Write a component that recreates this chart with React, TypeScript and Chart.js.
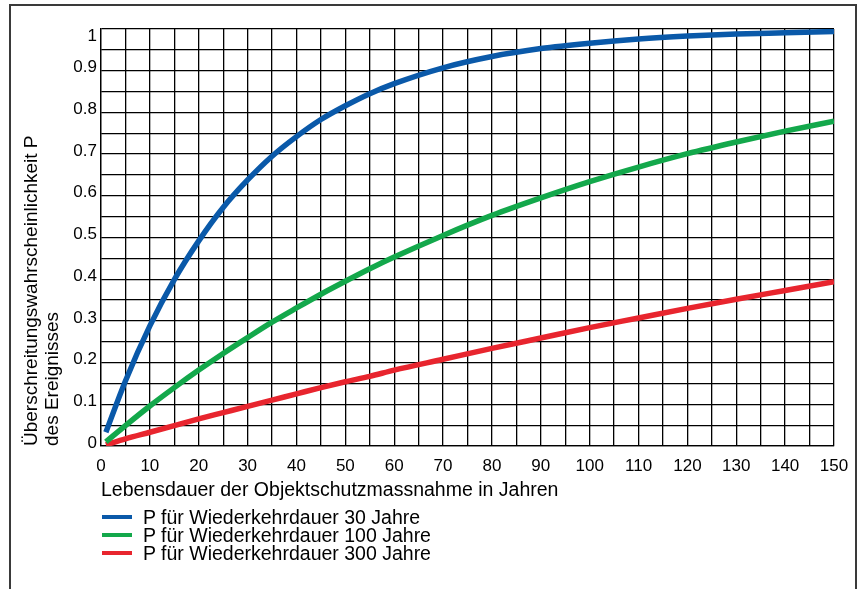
import React, { useEffect, useRef } from "react";
import { Chart, registerables } from "chart.js";

Chart.register(...registerables);

const years = [1, 5, 10, 15, 20, 25, 30, 35, 40, 45, 50, 55, 60, 70, 80, 90, 100, 110, 120, 130, 140, 150];
const p30 = [0.033, 0.156, 0.288, 0.399, 0.492, 0.572, 0.638, 0.695, 0.742, 0.783, 0.816, 0.845, 0.869, 0.907, 0.934, 0.953, 0.966, 0.976, 0.983, 0.988, 0.991, 0.994];
const p100 = [0.01, 0.049, 0.096, 0.14, 0.182, 0.222, 0.26, 0.297, 0.331, 0.364, 0.395, 0.425, 0.453, 0.505, 0.553, 0.595, 0.634, 0.669, 0.701, 0.729, 0.755, 0.779];
const p300 = [0.003, 0.017, 0.033, 0.049, 0.065, 0.08, 0.095, 0.11, 0.125, 0.14, 0.154, 0.167, 0.182, 0.208, 0.234, 0.259, 0.284, 0.307, 0.33, 0.352, 0.373, 0.394];

const seriesLabels = [
  "P für Wiederkehrdauer 30 Jahre",
  "P für Wiederkehrdauer 100 Jahre",
  "P für Wiederkehrdauer 300 Jahre",
];
const seriesColors = ["#0a59a9", "#13a84b", "#e8252e"];
const seriesValues = [p30, p100, p300];

const xTitle = "Lebensdauer der Objektschutzmassnahme in Jahren";
const yTitle = ["Überschreitungswahrscheinlichkeit P", "des Ereignisses"];

const FONT = "'Liberation Sans', Arial, Helvetica, sans-serif";

export default function App() {
  const ref = useRef<HTMLCanvasElement | null>(null);

  useEffect(() => {
    if (!ref.current) return;
    const chart = new Chart(ref.current, {
      type: "line",
      data: {
        datasets: seriesValues.map((vals, i) => ({
          label: seriesLabels[i],
          data: years.map((x, j) => ({ x, y: vals[j] })),
          borderColor: seriesColors[i],
          backgroundColor: seriesColors[i],
          borderWidth: 5.5,
          pointRadius: 0,
          cubicInterpolationMode: "monotone" as const,
          fill: false,
        })),
      },
      options: {
        responsive: false,
        animation: false,
        devicePixelRatio: 1,
        layout: { padding: { top: 29, right: 29, left: 0, bottom: 87 } },
        plugins: { legend: { display: false }, tooltip: { enabled: false } },
        scales: {
          x: {
            type: "linear",
            min: 0,
            max: 150,
            ticks: {
              stepSize: 5,
              autoSkip: false,
              maxRotation: 0,
              padding: 10,
              color: "#000",
              font: { family: FONT, size: 17 },
              callback: (v: any) => (Number(v) % 10 === 0 ? String(v) : ""),
            },
            grid: { color: "#000", lineWidth: 1.3, drawTicks: false },
            border: { color: "#000", width: 1.3 },
            title: {
              display: true,
              text: xTitle,
              align: "start",
              color: "#000",
              font: { family: FONT, size: 19.5 },
              padding: { top: 0, bottom: 0 },
            },
            afterFit: (s: any) => {
              s.height = 56;
            },
          },
          y: {
            type: "linear",
            min: 0,
            max: 1,
            ticks: {
              stepSize: 0.05,
              autoSkip: false,
              padding: 4,
              labelOffset: -3,
              color: "#000",
              font: { family: FONT, size: 17 },
              callback: (v: any) => {
                const n = Math.round(Number(v) * 100);
                if (n % 10 !== 0) return "";
                if (n === 100) return ["", "1"];
                return n === 0 ? "0" : String(n / 100);
              },
            },
            grid: { color: "#000", lineWidth: 1.3, drawTicks: false },
            border: { color: "#000", width: 1.3 },
            title: {
              display: true,
              text: yTitle,
              align: "start",
              color: "#000",
              font: { family: FONT, size: 19, lineHeight: 1.1 },
              padding: { top: 21.5, bottom: 0 },
            },
            afterFit: (s: any) => {
              s.width = 101;
            },
          },
        },
      },
    });
    return () => chart.destroy();
  }, []);

  return (
    <div style={{ position: "absolute", left: 0, top: 0, width: 863, height: 589, overflow: "hidden", background: "#fff" }}>
      <div
        style={{
          position: "absolute",
          left: 9,
          top: 4,
          width: 848,
          height: 700,
          border: "2px solid #3a3a3a",
          boxSizing: "border-box",
        }}
      />
      <canvas ref={ref} width={863} height={589} style={{ position: "absolute", left: 0, top: 0, width: 863, height: 589 }} />
      <div style={{ position: "absolute", left: 102, top: 508, fontFamily: FONT, fontSize: 19.5, color: "#000" }}>
        {seriesLabels.map((lab, i) => (
          <div key={lab} style={{ display: "flex", alignItems: "center", height: 18 }}>
            <span style={{ display: "inline-block", width: 30, height: 4.5, background: seriesColors[i], marginRight: 11, flex: "none" }} />
            <span style={{ lineHeight: "18px", whiteSpace: "nowrap" }}>{lab}</span>
          </div>
        ))}
      </div>
    </div>
  );
}
